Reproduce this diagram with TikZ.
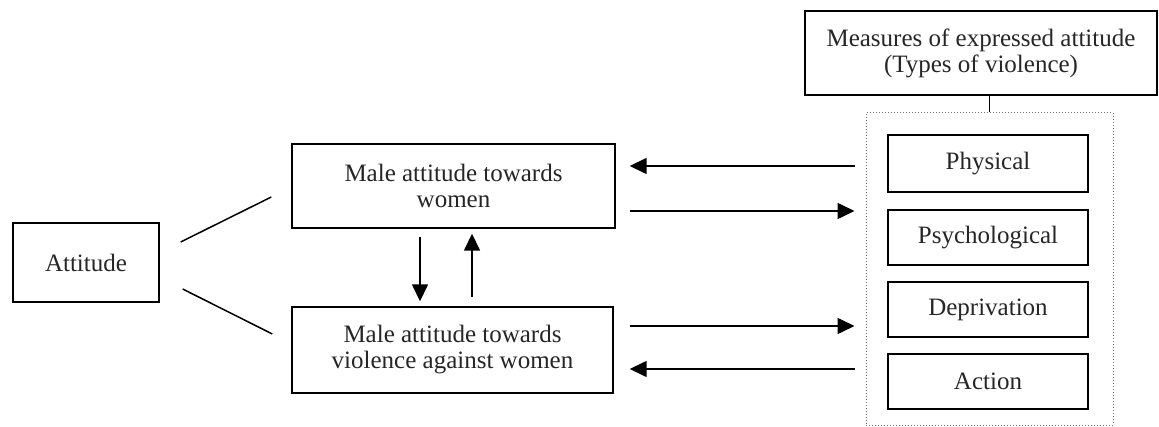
\documentclass[tikz,border=0pt]{standalone}
\usepackage{fontspec}
\setmainfont{Liberation Serif}
\usetikzlibrary{arrows.meta}
\begin{document}
\begin{tikzpicture}[x=1pt,y=-1pt,
  box/.style={draw=black, line width=1.4pt, align=center, inner sep=0pt, text=black!85,
    font=\fontsize{25}{26}\selectfont},
  grpbox/.style={draw=black!55, dotted, line width=1pt, inner sep=0pt},
  link/.style={draw=black, line width=1.5pt},
  arr/.style={draw=black, line width=1.5pt, -{Triangle[length=17pt,width=16pt]}}]
\useasboundingbox[fill=white] (0,0) rectangle (1159,427);

\node[box, minimum width=146pt, minimum height=79pt] (att) at (86,262.5) {Attitude};
\node[box, minimum width=323pt, minimum height=84pt] (mw) at (453.5,186) {Male attitude towards\\women};
\node[box, minimum width=321pt, minimum height=86pt] (mv) at (452.5,350) {Male attitude towards\\violence against women};

\node[grpbox, minimum width=247pt, minimum height=312pt] (grp) at (989.5,269) {};
\node[box, minimum width=352pt, minimum height=84pt] (meas) at (981,53) {Measures of expressed attitude\\(Types of violence)};
\node[box, minimum width=200pt, minimum height=57pt] (phys) at (988,163.5) {Physical};
\node[box, minimum width=200pt, minimum height=55pt] (psych) at (988,237.5) {Psychological};
\node[box, minimum width=200pt, minimum height=55pt] (depr) at (988,309.5) {Deprivation};
\node[box, minimum width=200pt, minimum height=55pt] (act) at (988,381.5) {Action};

% connector measures -> group
\draw[link] (grp.north) -- (grp.north |- meas.south);

% attitude links
\draw[link] ([shift={(21,-20.5)}]att.east) -- ([shift={(-20,11)}]mw.west);
\draw[link] ([shift={(23,26.5)}]att.east) -- ([shift={(-19,-16)}]mv.west);

% vertical arrows
\draw[arr] ([shift={(-33.5,8)}]mw.south) -- ([shift={(-32.5,-5)}]mv.north);
\draw[arr] ([shift={(19.5,-9)}]mv.north) -- ([shift={(18.5,5)}]mw.south);

% horizontal arrows
\draw[arr] ([shift={(-11,-103)}]grp.west) -- ([shift={(14,-20)}]mw.east);
\draw[arr] ([shift={(14,25)}]mw.east) -- ([shift={(-11,-58)}]grp.west);
\draw[arr] ([shift={(16,-24)}]mv.east) -- ([shift={(-11,57)}]grp.west);
\draw[arr] ([shift={(-11,100)}]grp.west) -- ([shift={(16,19)}]mv.east);
\end{tikzpicture}
\end{document}
